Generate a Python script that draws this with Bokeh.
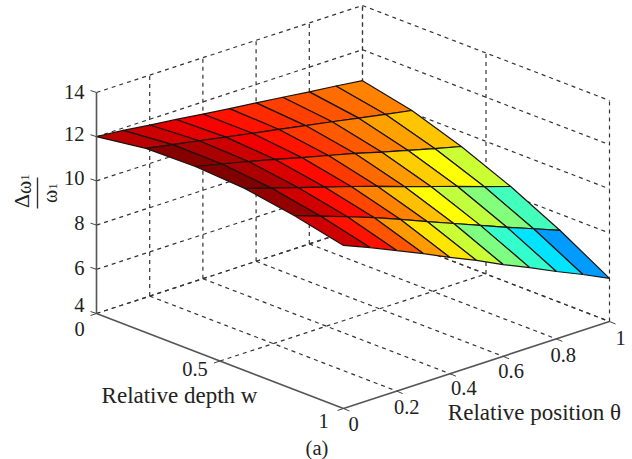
from bokeh.plotting import figure
from bokeh.models import Range1d, ColumnDataSource
from bokeh.core.properties import value
from bokeh.embed import file_html
from bokeh.resources import INLINE
import numpy as np

# ---- data -------------------------------------------------------------
depth_w = [0.0, 0.2, 0.4, 0.6, 0.8, 1.0]
position_theta = [0.0, 0.1, 0.2, 0.3, 0.4, 0.5, 0.6, 0.7, 0.8, 0.9, 1.0]
z_w00 = [12.00, 11.89, 11.74, 11.60, 11.45, 11.30, 11.17, 11.03, 10.88, 10.75, 10.60]
z_w02 = [12.33, 12.11, 11.89, 11.66, 11.44, 11.22, 11.00, 10.78, 10.55, 10.33, 10.11]
z_w04 = [12.37, 12.09, 11.81, 11.51, 11.20, 10.90, 10.60, 10.27, 9.95, 9.64, 9.34]
z_w06 = [12.24, 11.86, 11.49, 11.12, 10.75, 10.36, 9.96, 9.57, 9.18, 8.78, 8.39]
z_w08 = [11.87, 11.45, 11.03, 10.60, 10.12, 9.63, 9.15, 8.67, 8.19, 7.73, 7.26]
z_w10 = [11.38, 10.89, 10.36, 9.83, 9.26, 8.73, 8.15, 7.62, 7.05, 6.52, 5.95]
z_rows = [z_w00, z_w02, z_w04, z_w06, z_w08, z_w10]

z_ticks = [4, 6, 8, 10, 12, 14]
theta_ticks = [0, 0.2, 0.4, 0.6, 0.8, 1]
w_ticks = [0, 0.5, 1]
z_tick_labels = ["4", "6", "8", "10", "12", "14"]
theta_tick_labels = ["0", "0.2", "0.4", "0.6", "0.8", "1"]
w_tick_labels = ["0", "0.5", "1"]


# ---- oblique projection of the 3-D box to the page ---------------------
def px(w, t):
    return 96 + 247 * w + 266 * t


def py(w, t, z):
    return 313 + 95 * w - 87 * t - 22.1 * (z - 4)


def P(w, t, z):
    return px(w, t), py(w, t, z)


def jet(v):
    r = np.clip(min(4 * v - 1.5, -4 * v + 4.5), 0, 1)
    g = np.clip(min(4 * v - 0.5, -4 * v + 3.5), 0, 1)
    b = np.clip(min(4 * v + 0.5, -4 * v + 2.5), 0, 1)
    return "#%02x%02x%02x" % (int(r * 255 + .5), int(g * 255 + .5), int(b * 255 + .5))


p = figure(width=632, height=459, x_range=Range1d(0, 632), y_range=Range1d(459, 0),
           x_axis_type=None, y_axis_type=None, toolbar_location=None,
           output_backend="svg", min_border=0, outline_line_color=None,
           background_fill_color="white", border_fill_color="white")
p.grid.visible = False

# ---- dashed box grid ---------------------------------------------------
zlo, zhi = z_ticks[0], z_ticks[-1]
gx, gy = [], []


def seg(a, b):
    gx.append([a[0], b[0]])
    gy.append([a[1], b[1]])


for t in theta_ticks:
    if t > 0:
        seg(P(0, t, zlo), P(1, t, zlo))   # floor
        seg(P(0, t, zlo), P(0, t, zhi))   # wall w=0
for w in w_ticks:
    if w < 1:
        seg(P(w, 0, zlo), P(w, 1, zlo))   # floor
    seg(P(w, 1, zlo), P(w, 1, zhi))       # wall theta=1
for z in z_ticks:
    seg(P(0, 0, z), P(0, 1, z))
    seg(P(0, 1, z), P(1, 1, z))
p.multi_line(gx, gy, line_color="#333333", line_width=1.2, line_dash="4 4")

# ---- surface (flat shading, colour taken from each cell's first vertex) ---
Z = np.array(z_rows)
zmin, zmax = Z.min(), Z.max()
xs, ys, cols = [], [], []
for i in range(len(depth_w) - 1):
    for j in range(len(position_theta) - 1, 0, -1):
        jj = j - 1
        c = [(i, jj), (i, jj + 1), (i + 1, jj + 1), (i + 1, jj)]
        pts = [P(depth_w[a], position_theta[b], Z[a, b]) for a, b in c]
        xs.append([q[0] for q in pts])
        ys.append([q[1] for q in pts])
        cols.append(jet((Z[i, jj] - zmin) / (zmax - zmin)))
p.patches(xs, ys, fill_color=cols, line_color="#1c1410", line_width=1.2)

# ---- solid axes and ticks -----------------------------------------------
ax = [[px(0, 0), px(0, 0)], [px(0, 0), px(1, 0)], [px(1, 0), px(1, 1)]]
ay = [[py(0, 0, zlo), py(0, 0, zhi)], [py(0, 0, zlo), py(1, 0, zlo)], [py(1, 0, zlo), py(1, 1, zlo)]]
p.multi_line(ax, ay, line_color="#555555", line_width=1.6)
tx, ty = [], []
for z in z_ticks:
    a = P(0, 0, z)
    tx.append([a[0], a[0] - 6])
    ty.append([a[1], a[1] - 2])
for w in w_ticks:
    a = P(w, 0, zlo)
    tx.append([a[0], a[0] - 6])
    ty.append([a[1], a[1] + 2])
for t in theta_ticks:
    a = P(1, t, zlo)
    tx.append([a[0], a[0] + 6])
    ty.append([a[1], a[1] + 2.5])
p.multi_line(tx, ty, line_color="#444444", line_width=1)

# ---- texts ---------------------------------------------------------------
SERIF = value("Liberation Serif")
tc = "#222222"


def label(x, y, s, size="20.5px", angle=0, align="center"):
    p.text([x], [y], text=[s], text_font=SERIF, text_font_size=size, text_color=tc,
           text_align=align, text_baseline="middle", angle=angle)


z_off = {4: -9, 6: -1, 8: -2, 10: -3, 12: -3, 14: -1}
for z, s in zip(z_ticks, z_tick_labels):
    label(84, py(0, 0, z) + z_off[z], s, align="right")

w_off = {0: (-17, 15), 0.5: (-25, 8), 1: (-20, 12)}
for w, s in zip(w_ticks, w_tick_labels):
    a = P(w, 0, zlo)
    label(a[0] + w_off[w][0], a[1] + w_off[w][1], s)

t_off = {0: (10, 15), 0.2: (10, 16), 0.4: (14, 14), 0.6: (8, 15), 0.8: (7, 16), 1: (11, 16)}
for t, s in zip(theta_ticks, theta_tick_labels):
    a = P(1, t, zlo)
    label(a[0] + t_off[t][0], a[1] + t_off[t][1], s)

label(179, 395, "Relative depth w", size="23px")
label(534, 412, "Relative position θ", size="23px")
label(316.5, 447, "(a)", size="20.5px")

# rotated fraction on the vertical axis
label(21, 200.5, "Δ", size="22px", angle=np.pi / 2)
label(23, 187, "ω", size="20px", angle=np.pi / 2)
label(24, 177, "1", size="13px", angle=np.pi / 2)
label(49, 196, "ω", size="20px", angle=np.pi / 2)
label(52, 186, "1", size="13px", angle=np.pi / 2)
p.line([37, 37], [177, 208], line_color="#333333", line_width=1.4)

open("out.html", "w").write(file_html(p, INLINE))
